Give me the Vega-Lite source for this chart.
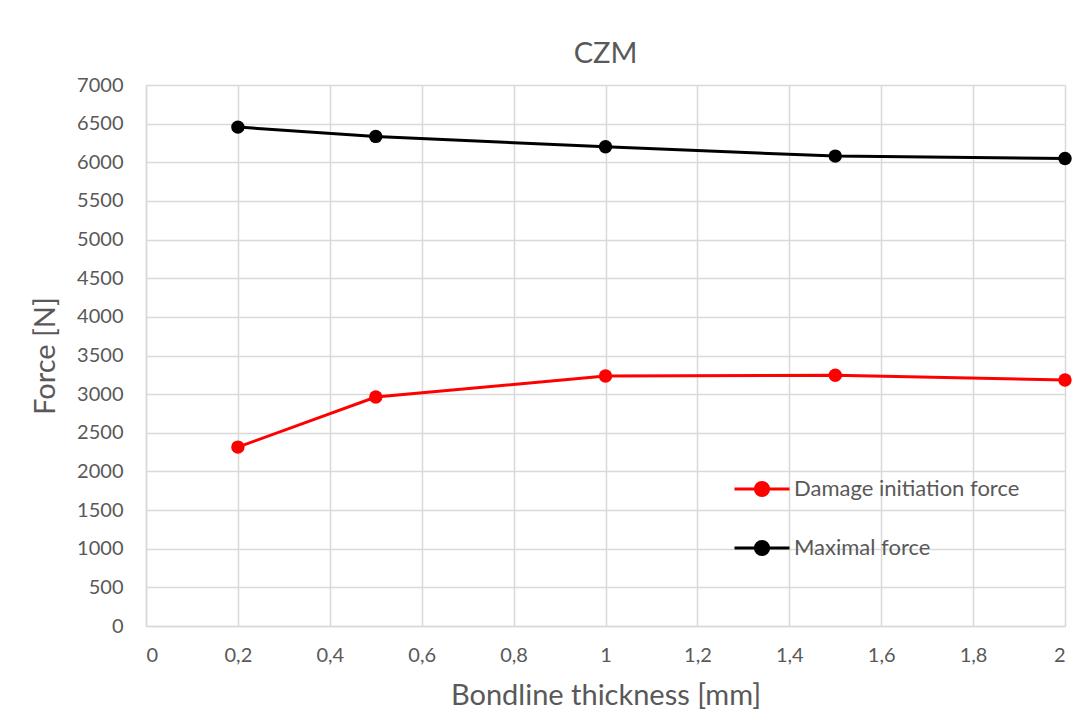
{
  "$schema": "https://vega.github.io/schema/vega-lite/v6.json",
  "autosize": "none",
  "width": 919,
  "height": 541,
  "padding": {"left": 146, "top": 85, "right": 26, "bottom": 95},
  "background": "white",
  "config": {
    "font": "Lato",
    "view": {"stroke": null}
  },
  "title": {
    "text": "CZM",
    "fontSize": 29,
    "fontWeight": "normal",
    "color": "#595959",
    "offset": 6,
    "anchor": "middle"
  },
  "data": {
    "values": [
      {"t": 0.2, "force": 2315, "series": "Damage initiation force"},
      {"t": 0.5, "force": 2963, "series": "Damage initiation force"},
      {"t": 1.0, "force": 3235, "series": "Damage initiation force"},
      {"t": 1.5, "force": 3245, "series": "Damage initiation force"},
      {"t": 2.0, "force": 3183, "series": "Damage initiation force"},
      {"t": 0.2, "force": 6455, "series": "Maximal force"},
      {"t": 0.5, "force": 6335, "series": "Maximal force"},
      {"t": 1.0, "force": 6200, "series": "Maximal force"},
      {"t": 1.5, "force": 6080, "series": "Maximal force"},
      {"t": 2.0, "force": 6050, "series": "Maximal force"}
    ]
  },
  "encoding": {
    "x": {
      "field": "t", "type": "quantitative",
      "scale": {"domain": [0, 2], "nice": false},
      "axis": {
        "title": "Bondline thickness [mm]",
        "values": [0, 0.2, 0.4, 0.6, 0.8, 1, 1.2, 1.4, 1.6, 1.8, 2],
        "labelExpr": "replace(format(datum.value, '~g'), '.', ',')",
        "labelFontSize": 20, "labelColor": "#595959", "labelPadding": 19,
        "titleFontSize": 29, "titleFontWeight": "normal", "titleColor": "#595959", "titlePadding": 16,
        "grid": true, "gridColor": "#d9d9d9", "gridWidth": 1.5,
        "domain": true, "domainColor": "#d9d9d9", "domainWidth": 1.5,
        "ticks": false
      }
    },
    "y": {
      "field": "force", "type": "quantitative",
      "scale": {"domain": [0, 7000], "nice": false},
      "axis": {
        "title": "Force [N]",
        "values": [0, 500, 1000, 1500, 2000, 2500, 3000, 3500, 4000, 4500, 5000, 5500, 6000, 6500, 7000],
        "format": "d",
        "labelFontSize": 20, "labelColor": "#595959", "labelPadding": 23,
        "titleFontSize": 29, "titleFontWeight": "normal", "titleColor": "#595959", "titlePadding": 16,
        "grid": true, "gridColor": "#d9d9d9", "gridWidth": 1.5,
        "domain": true, "domainColor": "#d9d9d9", "domainWidth": 1.5,
        "ticks": false
      }
    },
    "color": {
      "field": "series", "type": "nominal",
      "scale": {"domain": ["Damage initiation force", "Maximal force"], "range": ["#ff0000", "#000000"]},
      "legend": {
        "title": null,
        "orient": "none",
        "legendX": 587,
        "legendY": 375,
        "symbolType": "M-1,0L1,0M-0.24,0A0.24,0.24 0 1,0 0.24,0A0.24,0.24 0 1,0 -0.24,0Z",
        "symbolSize": 3025,
        "symbolStrokeWidth": 3,
        "symbolFillColor": null,
        "labelFontSize": 22,
        "labelColor": "#595959",
        "labelLimit": 400,
        "labelOffset": 3,
        "rowPadding": 17
      }
    }
  },
  "layer": [
    {"mark": {"type": "line", "strokeWidth": 3}},
    {"mark": {"type": "point", "filled": true, "size": 180, "opacity": 1}}
  ]
}
